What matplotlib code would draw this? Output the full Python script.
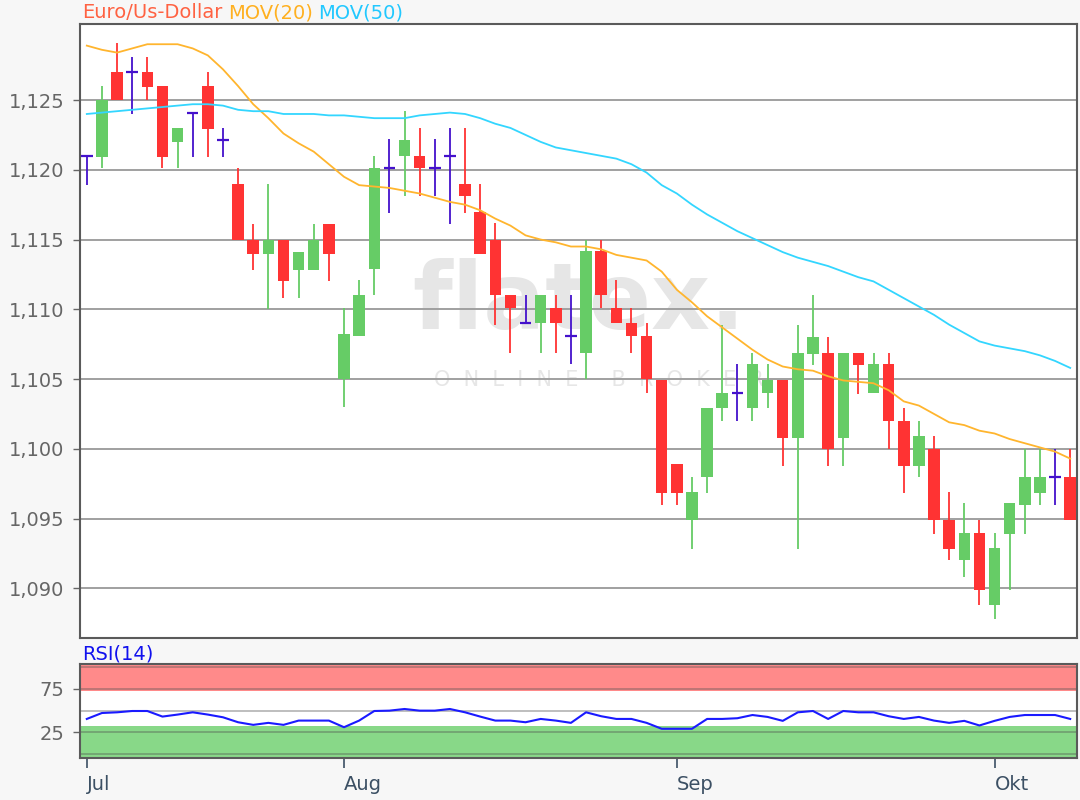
import numpy as np
import matplotlib
import matplotlib.pyplot as plt

matplotlib.use('Agg')

# daily candles, Jul - Okt (index based, no gaps)
opens = [1.1210, 1.1209, 1.1270, 1.1270, 1.1270, 1.1260, 1.1220, 1.1241, 1.1260, 1.1221,
         1.1190, 1.1150, 1.1140, 1.1150, 1.1128, 1.1128, 1.1161, 1.1050, 1.1081, 1.1129,
         1.1201, 1.1210, 1.1210, 1.1201, 1.1210, 1.1190, 1.1170, 1.1150, 1.1110, 1.1090,
         1.1090, 1.1101, 1.1081, 1.1069, 1.1142, 1.1101, 1.1090, 1.1081, 1.1049, 1.0989,
         1.0949, 1.0980, 1.1029, 1.1040, 1.1029, 1.1040, 1.1049, 1.1008, 1.1068, 1.1069,
         1.1008, 1.1069, 1.1040, 1.1061, 1.1020, 1.0988, 1.1000, 1.0949, 1.0920, 1.0940,
         1.0888, 1.0939, 1.0960, 1.0968, 1.0980, 1.0980]
highs = [1.1210, 1.1260, 1.1291, 1.1281, 1.1281, 1.1260, 1.1230, 1.1241, 1.1270, 1.1230,
         1.1201, 1.1161, 1.1190, 1.1150, 1.1141, 1.1161, 1.1161, 1.1101, 1.1121, 1.1210,
         1.1222, 1.1242, 1.1230, 1.1222, 1.1230, 1.1230, 1.1190, 1.1162, 1.1110, 1.1110,
         1.1110, 1.1110, 1.1110, 1.1150, 1.1150, 1.1121, 1.1101, 1.1090, 1.1049, 1.0989,
         1.0980, 1.1029, 1.1089, 1.1061, 1.1069, 1.1061, 1.1049, 1.1089, 1.1110, 1.1080,
         1.1069, 1.1069, 1.1069, 1.1069, 1.1029, 1.1020, 1.1009, 1.0969, 1.0961, 1.0949,
         1.0940, 1.0961, 1.1000, 1.1000, 1.1000, 1.1000]
lows = [1.1189, 1.1201, 1.1250, 1.1240, 1.1250, 1.1201, 1.1201, 1.1209, 1.1209, 1.1209,
        1.1150, 1.1128, 1.1100, 1.1108, 1.1108, 1.1128, 1.1120, 1.1030, 1.1081, 1.1110,
        1.1169, 1.1181, 1.1181, 1.1181, 1.1161, 1.1169, 1.1140, 1.1089, 1.1069, 1.1090,
        1.1069, 1.1069, 1.1061, 1.1050, 1.1101, 1.1090, 1.1069, 1.1040, 1.0960, 1.0960,
        1.0928, 1.0968, 1.1020, 1.1020, 1.1020, 1.1029, 1.0988, 1.0928, 1.1060, 1.0988,
        1.0988, 1.1039, 1.1040, 1.1000, 1.0968, 1.0980, 1.0939, 1.0920, 1.0908, 1.0888,
        1.0878, 1.0899, 1.0939, 1.0960, 1.0960, 1.0949]
closes = [1.1210, 1.1250, 1.1250, 1.1270, 1.1259, 1.1209, 1.1230, 1.1241, 1.1229, 1.1221,
          1.1150, 1.1140, 1.1150, 1.1120, 1.1141, 1.1150, 1.1140, 1.1082, 1.1110, 1.1201,
          1.1201, 1.1221, 1.1201, 1.1201, 1.1210, 1.1181, 1.1140, 1.1110, 1.1101, 1.1090,
          1.1110, 1.1090, 1.1081, 1.1142, 1.1110, 1.1090, 1.1081, 1.1050, 1.0968, 1.0968,
          1.0969, 1.1029, 1.1040, 1.1040, 1.1061, 1.1049, 1.1008, 1.1069, 1.1080, 1.1000,
          1.1069, 1.1060, 1.1061, 1.1020, 1.0988, 1.1009, 1.0949, 1.0928, 1.0940, 1.0899,
          1.0929, 1.0961, 1.0980, 1.0980, 1.0980, 1.0949]

mov20 = [1.1289, 1.1286, 1.1284, 1.1287, 1.1290, 1.1290, 1.1290, 1.1287, 1.1282, 1.1272,
         1.1260, 1.1247, 1.1237, 1.1226, 1.1219, 1.1213, 1.1204, 1.1195, 1.1189, 1.1188,
         1.1187, 1.1185, 1.1183, 1.1180, 1.1177, 1.1175, 1.1171, 1.1165, 1.1160, 1.1153,
         1.1150, 1.1148, 1.1145, 1.1145, 1.1143, 1.1139, 1.1137, 1.1135, 1.1127, 1.1114,
         1.1105, 1.1095, 1.1087, 1.1079, 1.1071, 1.1064, 1.1059, 1.1057, 1.1056, 1.1052,
         1.1049, 1.1048, 1.1047, 1.1042, 1.1034, 1.1031, 1.1025, 1.1019, 1.1017, 1.1013,
         1.1011, 1.1007, 1.1004, 1.1001, 1.0998, 1.0993]
mov50 = [1.1240, 1.1241, 1.1242, 1.1243, 1.1244, 1.1245, 1.1246, 1.1247, 1.1247, 1.1246,
         1.1243, 1.1242, 1.1242, 1.1240, 1.1240, 1.1240, 1.1239, 1.1239, 1.1238, 1.1237,
         1.1237, 1.1237, 1.1239, 1.1240, 1.1241, 1.1240, 1.1237, 1.1233, 1.1230, 1.1225,
         1.1220, 1.1216, 1.1214, 1.1212, 1.1210, 1.1208, 1.1204, 1.1198, 1.1189, 1.1183,
         1.1175, 1.1168, 1.1162, 1.1156, 1.1151, 1.1146, 1.1141, 1.1137, 1.1134, 1.1131,
         1.1127, 1.1123, 1.1120, 1.1114, 1.1108, 1.1102, 1.1096, 1.1089, 1.1083, 1.1077,
         1.1074, 1.1072, 1.1070, 1.1067, 1.1063, 1.1058]

rsi = [40.5, 47.3, 48.1, 49.6, 49.6, 43.2, 45.5, 48.1, 45.5, 42.4,
       36.7, 33.7, 36.0, 33.7, 38.6, 38.6, 38.6, 31.0, 38.6, 49.6,
       50.0, 51.9, 50.0, 50.0, 51.9, 48.1, 43.2, 38.6, 38.6, 36.7,
       40.5, 38.6, 36.0, 48.1, 43.6, 40.5, 40.5, 36.0, 29.2, 29.2,
       29.2, 40.5, 40.5, 41.3, 45.0, 42.8, 38.3, 48.1, 49.6, 40.5,
       49.6, 48.1, 48.1, 43.6, 40.5, 42.8, 38.6, 36.0, 38.3, 33.0,
       38.3, 42.8, 45.0, 45.0, 45.0, 40.5]

month_pos = [0, 17, 39, 60]
month_labels = ['Jul', 'Aug', 'Sep', 'Okt']
price_ticks = [1.090, 1.095, 1.100, 1.105, 1.110, 1.115, 1.120, 1.125]

W, H = 1080, 800
UP = '#66cc66'
DOWN = '#ff3333'
FLAT = '#4411cc'
TICK_COL = '#666666'
FS = 14

plt.rcParams['font.family'] = ['DejaVu Sans']

fig = plt.figure(figsize=(W / 100, H / 100), dpi=100, facecolor='#f7f7f7')


def px_box(left, top, right, bottom):
    return [left / W, 1 - bottom / H, (right - left) / W, (bottom - top) / H]


ax = fig.add_axes(px_box(80, 24, 1077, 638))
rs = fig.add_axes(px_box(80, 664, 1077, 758), sharex=ax)

x = np.arange(len(opens))
o = np.array(opens)
c = np.array(closes)
hi = np.array(highs)
lo = np.array(lows)

cols = np.where(c > o, UP, np.where(c < o, DOWN, FLAT))
body_w = 0.76

# watermark
ax.text(0.50, 0.545, 'flatex.', transform=ax.transAxes, ha='center', va='center',
        fontsize=66, fontweight='bold', color='#e6e6e6', zorder=0)
ax.text(0.52, 0.42, 'O  N  L  I  N  E     B  R  O  K  E  R', transform=ax.transAxes,
        ha='center', va='center', fontsize=15, color='#e6e6e6', zorder=0)

ax.vlines(x, lo, hi, colors=cols, linewidth=1.3, zorder=3)
body_h = np.abs(c - o)
is_flat = c == o
ax.bar(x[~is_flat], body_h[~is_flat], bottom=np.minimum(o, c)[~is_flat], width=body_w,
       color=cols[~is_flat], linewidth=0, zorder=3)
ax.hlines(o[is_flat], x[is_flat] - body_w / 2, x[is_flat] + body_w / 2,
          colors=FLAT, linewidth=1.6, zorder=3)

ax.plot(x, mov20, color='#ffb52e', linewidth=1.3, zorder=4)
ax.plot(x, mov50, color='#33d6ff', linewidth=1.3, zorder=4)

ax.set_xlim(-0.45, len(x) - 0.55)
ax.set_ylim(1.08644, 1.13045)
ax.set_yticks(price_ticks)
ax.set_yticklabels([f'{v:.3f}'.replace('.', ',') for v in price_ticks])
ax.grid(axis='y', color='#a0a0a0', linewidth=1.4, zorder=1)
ax.set_axisbelow(True)
ax.tick_params(axis='y', length=5, width=1, color='#666666', labelcolor=TICK_COL,
               labelsize=FS, pad=6)
ax.tick_params(axis='x', bottom=False, labelbottom=False)
ax.set_facecolor('white')
for s in ax.spines.values():
    s.set_color('#5a5a5a')
    s.set_linewidth(1.5)

# RSI panel
rs.set_facecolor('white')
rs.axhspan(72.5, 104, color='#ff8a8a', linewidth=0, zorder=0.5)
rs.axhspan(-5, 32.5, color='#88d888', linewidth=0, zorder=0.5)
for lvl in [0, 25, 50, 75, 100]:
    rs.axhline(lvl, color='#505050', alpha=0.4, linewidth=1.3, zorder=1)
rs.plot(x, rsi, color='#1a1aff', linewidth=1.5, zorder=3)
rs.set_ylim(-4.3, 103.5)
rs.set_yticks([25, 75])
rs.tick_params(axis='y', length=5, width=1, color='#666666', labelcolor=TICK_COL,
               labelsize=FS, pad=6)
rs.set_xticks(month_pos)
rs.set_xticklabels(month_labels, ha='left')
rs.tick_params(axis='x', length=7, width=1.2, color='#3c5064', labelcolor='#3c5064',
               labelsize=FS, pad=5)
for s in rs.spines.values():
    s.set_color('#5a5a5a')
    s.set_linewidth(1.5)

# header texts
fig.text(82 / W, 1 - 13 / H, 'Euro/Us-Dollar', color='#ff6242', fontsize=FS, va='center')
fig.text(228 / W, 1 - 13 / H, 'MOV(20)', color='#ffb020', fontsize=FS, va='center')
fig.text(318 / W, 1 - 13 / H, 'MOV(50)', color='#22c8ff', fontsize=FS, va='center')
fig.text(82 / W, 1 - 654 / H, 'RSI(14)', color='#1111ee', fontsize=FS, va='center')

fig.savefig('out.png', dpi=100, facecolor=fig.get_facecolor())
